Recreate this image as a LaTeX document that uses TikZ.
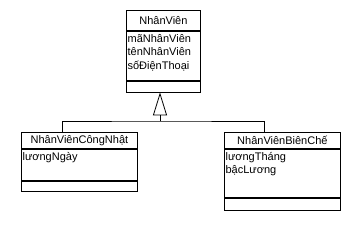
\documentclass[tikz,border=0pt]{standalone}
\usepackage{fontspec}
\setmainfont{Liberation Sans}
\usepackage{tikz}
\usetikzlibrary{positioning, arrows.meta}

\begin{document}
\begin{tikzpicture}[
    x=1pt, y=-1pt,
    line width=0.8pt,
    font=\fontsize{11}{13.6}\selectfont,
    classname/.style={rectangle, draw, inner sep=0pt, anchor=north west},
    compart/.style={rectangle, draw, inner sep=0pt},
    attrtext/.style={anchor=north west, align=left, inner xsep=1.2pt, inner ysep=2.8pt},
    inherit/.style={-{Triangle[open, length=23pt, width=14pt, line width=0.8pt]}}
]
    \useasboundingbox (0,0) rectangle (362,226);

    % Superclass
    \node (nv) [classname, minimum width=74pt, minimum height=20pt] at (126,10) {NhânViên};
    \node (nvAttr) [compart, minimum width=74pt, minimum height=49pt, below=0pt of nv] {};
    \node (nvOps)  [compart, minimum width=74pt, minimum height=11pt, below=0pt of nvAttr] {};
    \node (nvText) [attrtext] at (nvAttr.north west) {mãNhânViên\\tênNhânViên\\sốĐiệnThoại};

    % Subclass: NhanVienCongNhat
    \node (cn) [classname, minimum width=116pt, minimum height=16pt] at (21,132) {NhânViênCôngNhật};
    \node (cnAttr) [compart, minimum width=116pt, minimum height=31pt, below=0pt of cn] {};
    \node (cnOps)  [compart, minimum width=116pt, minimum height=10pt, below=0pt of cnAttr] {};
    \node (cnText) [attrtext] at (cnAttr.north west) {lươngNgày};

    % Subclass: NhanVienBienChe
    \node (bc) [classname, minimum width=116pt, minimum height=16pt] at (224,132) {NhânViênBiênChế};
    \node (bcAttr) [compart, minimum width=116pt, minimum height=48pt, below=0pt of bc] {};
    \node (bcOps)  [compart, minimum width=116pt, minimum height=12pt, below=0pt of bcAttr] {};
    \node (bcText) [attrtext] at (bcAttr.north west) {lươngTháng\\bậcLương};

    % Generalization
    \coordinate (hub) at (160,121);
    \draw [inherit] (hub) -- (hub |- nvOps.south);
    \draw ([xshift=-17pt]cn.north) |- (hub) -| ([xshift=-18pt]bc.north);

\end{tikzpicture}
\end{document}
